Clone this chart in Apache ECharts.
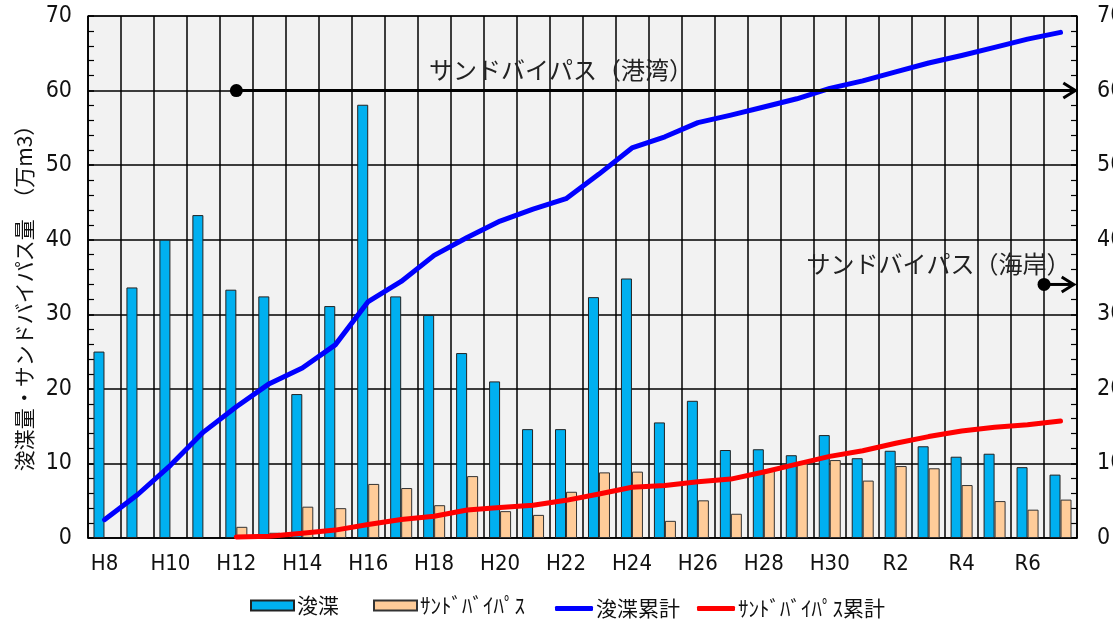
<!DOCTYPE html>
<html><head><meta charset="utf-8">
<script src="https://cdn.jsdelivr.net/npm/echarts@6/dist/echarts.min.js"></script>
<style>html,body{margin:0;padding:0;background:#fff}#c{width:1113px;height:619px}</style>
</head><body><div id="c"></div>
<script>
const categories = ['H8','H9','H10','H11','H12','H13','H14','H15','H16','H17','H18','H19','H20','H21','H22','H23','H24','H25','H26','H27','H28','H29','H30','H31','R2','R3','R4','R5','R6','R7'];
const dredge = [25, 33.6, 40, 43.3, 33.3, 32.4, 19.3, 31.1, 58.1, 32.4, 29.9, 24.8, 21.0, 14.6, 14.6, 32.3, 34.8, 15.5, 18.4, 11.8, 11.9, 11.1, 13.8, 10.7, 11.7, 12.3, 10.9, 11.3, 9.5, 8.5];
const sandBypass = [null, null, null, null, 1.5, 0.7, 4.2, 4.0, 7.25, 6.7, 4.4, 8.3, 3.6, 3.1, 6.2, 8.8, 8.9, 2.3, 5.05, 3.25, 9.2, 10.0, 10.45, 7.7, 9.65, 9.35, 7.1, 4.95, 3.8, 5.15];
const dredgeCum = [24.5, 58, 97.5, 142, 176, 207, 228, 259, 317, 344, 379, 403, 425, 441, 455, 488, 523, 538, 557, 567, 578, 589, 603, 613, 625, 637, 647, 658, 669, 678];
const sandCum = [null, null, null, null, 1.5, 2.2, 6.5, 10.6, 18, 24.7, 29.2, 37.5, 41, 44, 50.5, 59, 68, 70.5, 75.5, 79, 88.5, 99, 109.5, 117, 127, 136, 143.5, 148.5, 152, 157];
const leftTicks = [0, 10, 20, 30, 40, 50, 60, 70];
const rightTicks = [0, 100, 200, 300, 400, 500, 600, 700];
// annotation arrows: start (category position), end, level, label
const annoStart = [4.5, 29];
const annoEnd = [29.95, 29.9];
const annoLevel = [60, 34];
const annoLabel = ['サンドバイパス（港湾）', 'サンドバイパス（海岸）'];
const annoLabelX = [14.35, 25.8];
const annoLabelY = [62.8, 36.7];

const numFont = "'DejaVu Sans Condensed','Liberation Sans Narrow','Noto Sans',sans-serif";
const jpFont = "'Noto Sans CJK JP',sans-serif";

const chart = echarts.init(document.getElementById('c'));
const annoData = annoStart.map((s, i) => [s, annoEnd[i], annoLevel[i], annoLabelX[i], annoLabelY[i]]);

function legendAt(name, left, isLine, color) {
  return {
    data: [{name: name, icon: isLine ? 'roundRect' : 'rect',
            itemStyle: isLine ? {color: color, borderWidth: 0} : undefined}],
    left: left, top: isLine ? 598 : 595,
    itemWidth: isLine ? 38 : 43, itemHeight: isLine ? 5 : 10,
    itemGap: 0, padding: 0,
    textStyle: {fontFamily: jpFont, fontSize: 21, color: '#111', padding: [0, 0, 0, -2]}
  };
}

chart.setOption({
  animation: false,
  backgroundColor: '#fff',
  grid: {left: 88, right: 36, top: 16, bottom: 81, show: true, backgroundColor: '#f2f2f2', borderColor: '#000', borderWidth: 1, outerBoundsMode: 'none', containLabel: false},
  legend: [
    legendAt('浚渫', 250, false),
    legendAt('ｻﾝﾄﾞﾊﾞｲﾊﾟｽ', 373, false),
    legendAt('浚渫累計', 555, true, '#0000ff'),
    legendAt('ｻﾝﾄﾞﾊﾞｲﾊﾟｽ累計', 697, true, '#ff0000')
  ],
  xAxis: [{
    type: 'category', data: categories, boundaryGap: true,
    axisLine: {lineStyle: {color: '#000', width: 1.5}},
    axisTick: {interval: 0, length: 7, inside: false, lineStyle: {color: '#000', width: 1.5}},
    axisLabel: {interval: 1, margin: 15, fontFamily: numFont, fontSize: 22, color: '#111'},
    splitLine: {show: true, interval: 0, lineStyle: {color: '#000', width: 1.5}}
  }, {
    type: 'value', min: 0, max: 30, show: false
  }],
  yAxis: [{
    type: 'value', min: 0, max: 70, interval: 10,
    name: '浚渫量・サンドバイパス量　（万m3）', nameLocation: 'middle', nameRotate: 90, nameGap: 46,
    nameTextStyle: {fontFamily: jpFont, fontSize: 21, color: '#111', padding: [0, 32, 0, 0]},
    axisLine: {show: true, lineStyle: {color: '#000', width: 1.5}},
    axisTick: {show: true, inside: true, length: 6, lineStyle: {color: '#000', width: 1.5}},
    minorTick: {show: true, splitNumber: 5, length: 6, lineStyle: {color: '#000', width: 1.2}},
    axisLabel: {margin: 16, fontFamily: numFont, fontSize: 23, color: '#111', customValues: leftTicks},
    splitLine: {show: true, lineStyle: {color: '#000', width: 1.5}}
  }, {
    type: 'value', min: 0, max: 700, interval: 100, position: 'right',
    axisLine: {show: true, lineStyle: {color: '#000', width: 1.5}},
    axisTick: {show: true, inside: true, length: 6, lineStyle: {color: '#000', width: 1.5}},
    minorTick: {show: true, splitNumber: 5, length: 6, lineStyle: {color: '#000', width: 1.2}},
    axisLabel: {margin: 20, align: 'left', fontFamily: numFont, fontSize: 23, color: '#111', customValues: rightTicks},
    splitLine: {show: false}
  }],
  series: [{
    name: '浚渫', type: 'bar', data: dredge, barWidth: 11, barGap: '0%',
    itemStyle: {color: '#00b0f0', borderColor: '#222', borderWidth: 1}
  }, {
    name: 'ｻﾝﾄﾞﾊﾞｲﾊﾟｽ', type: 'bar', data: sandBypass, barWidth: 11, barGap: '0%',
    itemStyle: {color: '#ffcc99', borderColor: '#333', borderWidth: 1}
  }, {
    name: '浚渫累計', type: 'line', yAxisIndex: 1, data: dredgeCum, symbol: 'none',
    lineStyle: {color: '#0000ff', width: 5, cap: 'round', join: 'round'}, itemStyle: {color: '#0000ff'}
  }, {
    name: 'ｻﾝﾄﾞﾊﾞｲﾊﾟｽ累計', type: 'line', yAxisIndex: 1, data: sandCum, symbol: 'none',
    lineStyle: {color: '#ff0000', width: 5, cap: 'round', join: 'round'}, itemStyle: {color: '#ff0000'}
  }, {
    type: 'custom', xAxisIndex: 1, yAxisIndex: 0, data: annoData, silent: true, z: 5,
    encode: {x: [0, 1, 3], y: [2, 4]},
    renderItem: function (params, api) {
      const p0 = api.coord([api.value(0), api.value(2)]);
      const p1 = api.coord([api.value(1), api.value(2)]);
      const pt = api.coord([api.value(3), api.value(4)]);
      return {type: 'group', children: [
        {type: 'line', shape: {x1: p0[0], y1: p0[1], x2: p1[0], y2: p1[1]}, style: {stroke: '#000', lineWidth: 3}},
        {type: 'circle', shape: {cx: p0[0], cy: p0[1], r: 6.5}, style: {fill: '#000'}},
        {type: 'polyline', shape: {points: [[p1[0] - 12, p1[1] - 7.5], [p1[0], p1[1]], [p1[0] - 12, p1[1] + 7.5]]}, style: {stroke: '#000', lineWidth: 3, fill: null}},
        {type: 'text', x: pt[0], y: pt[1], style: {text: annoLabel[params.dataIndex], fill: '#222', font: "24px 'Noto Sans CJK JP', sans-serif", align: 'center', verticalAlign: 'middle'}}
      ]};
    }
  }]
});
</script></body></html>
